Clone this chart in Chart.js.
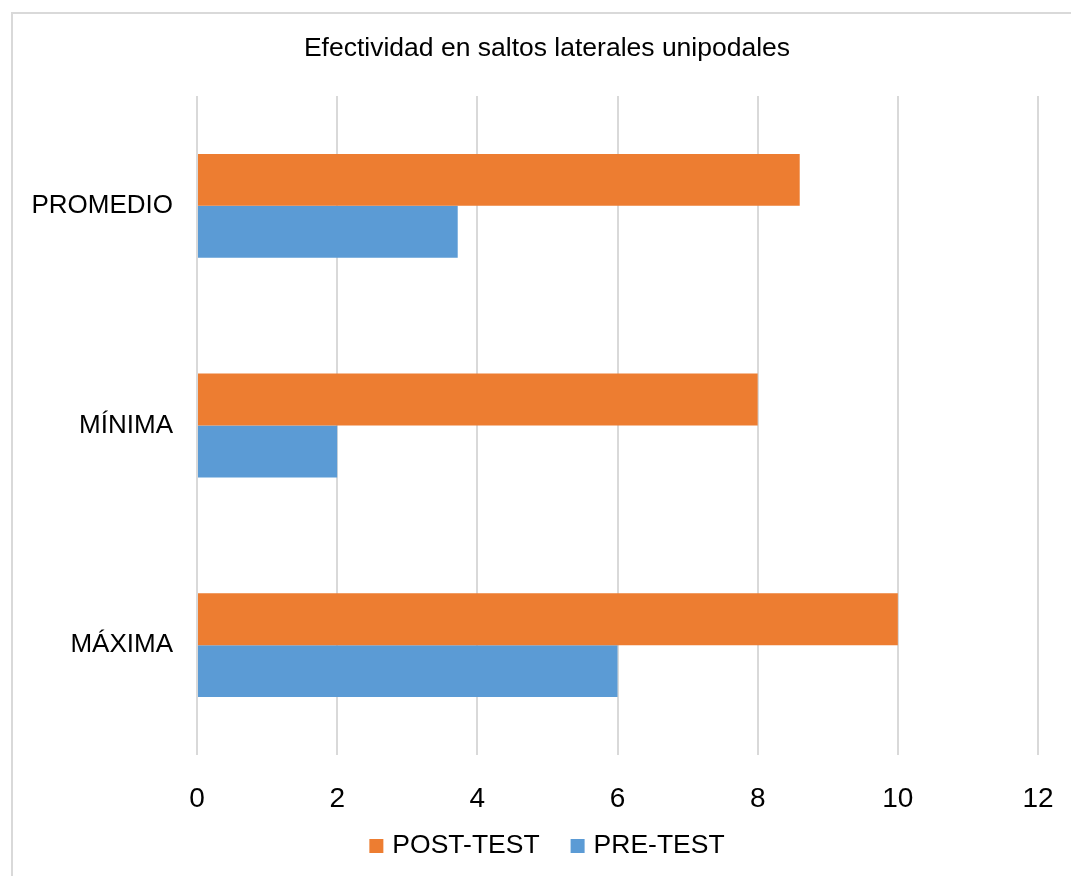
<!DOCTYPE html>
<html>
<head>
<meta charset="utf-8">
<script src="https://cdn.jsdelivr.net/npm/chart.js@4"></script>
<style>
  body { margin: 0; background: #fff; }
  canvas { display: block; }
</style>
</head>
<body>
<canvas id="myChart" width="1071" height="876"></canvas>
<script>
const categories = ["PROMEDIO", "MÍNIMA", "MÁXIMA"];
const postTest = [8.6, 8, 10];
const preTest = [3.72, 2, 6];
const xTicks = [0, 2, 4, 6, 8, 10, 12];
const chartTitle = "Efectividad en saltos laterales unipodales";

const FONT = "'Liberation Sans', Arial, sans-serif";

// light grey frame, title and legend centred over the whole chart box
const decor = {
  id: "decor",
  beforeDraw(chart) {
    const ctx = chart.ctx;
    ctx.save();
    ctx.strokeStyle = "#d9d9d9";
    ctx.lineWidth = 2;
    ctx.beginPath();
    ctx.moveTo(12, chart.height);
    ctx.lineTo(12, 13);
    ctx.lineTo(chart.width, 13);
    ctx.stroke();

    ctx.fillStyle = "#000";
    ctx.font = "26.5px " + FONT;
    ctx.textAlign = "center";
    ctx.textBaseline = "middle";
    ctx.fillText(chartTitle, 547, 49);
    ctx.restore();
  },
  afterDraw(chart) {
    const ctx = chart.ctx;
    const sets = chart.data.datasets;
    const box = 14, gap = 9, spacing = 31;
    ctx.save();
    ctx.font = "26.5px " + FONT;
    ctx.textBaseline = "middle";
    ctx.textAlign = "left";
    const widths = sets.map((d) => box + gap + ctx.measureText(d.label).width);
    const total = widths.reduce((a, b) => a + b, 0) + spacing * (sets.length - 1);
    let x = 547 - total / 2;
    const y = 846;
    sets.forEach((d, i) => {
      ctx.fillStyle = d.backgroundColor;
      ctx.fillRect(x, y - box / 2, box, box);
      ctx.fillStyle = "#000";
      ctx.fillText(d.label, x + box + gap, y);
      x += widths[i] + spacing;
    });
    ctx.restore();
  },
};

Chart.defaults.font.family = FONT;
Chart.defaults.color = "#000";

const ctx = document.getElementById("myChart");
new Chart(ctx, {
  type: "bar",
  data: {
    labels: categories,
    datasets: [
      {
        label: "POST-TEST",
        data: postTest,
        backgroundColor: "#ED7D31",
        borderWidth: 0,
      },
      {
        label: "PRE-TEST",
        data: preTest,
        backgroundColor: "#5B9BD5",
        borderWidth: 0,
      },
    ],
  },
  options: {
    indexAxis: "y",
    responsive: false,
    animation: false,
    devicePixelRatio: 1,
    categoryPercentage: 0.473,
    barPercentage: 1,
    layout: {
      padding: { top: 96, bottom: 66, left: 0, right: 33 },
    },
    scales: {
      x: {
        min: 0,
        max: 12,
        afterBuildTicks: (scale) => {
          scale.ticks = xTicks.map((v) => ({ value: v }));
        },
        afterFit: (scale) => {
          scale.height = 55;
          scale.paddingLeft = 0;
          scale.paddingRight = 0;
        },
        grid: { color: "#d9d9d9", lineWidth: 2, drawTicks: false },
        border: { display: false },
        ticks: { font: { size: 28 }, padding: 27, color: "#000" },
      },
      y: {
        afterFit: (scale) => {
          scale.width = 197;
        },
        grid: { display: false, drawTicks: false },
        border: { display: false },
        ticks: { font: { size: 26 }, padding: 24, color: "#000" },
      },
    },
    plugins: {
      title: { display: false },
      legend: { display: false },
      tooltip: { enabled: false },
    },
  },
  plugins: [decor],
});
</script>
</body>
</html>
